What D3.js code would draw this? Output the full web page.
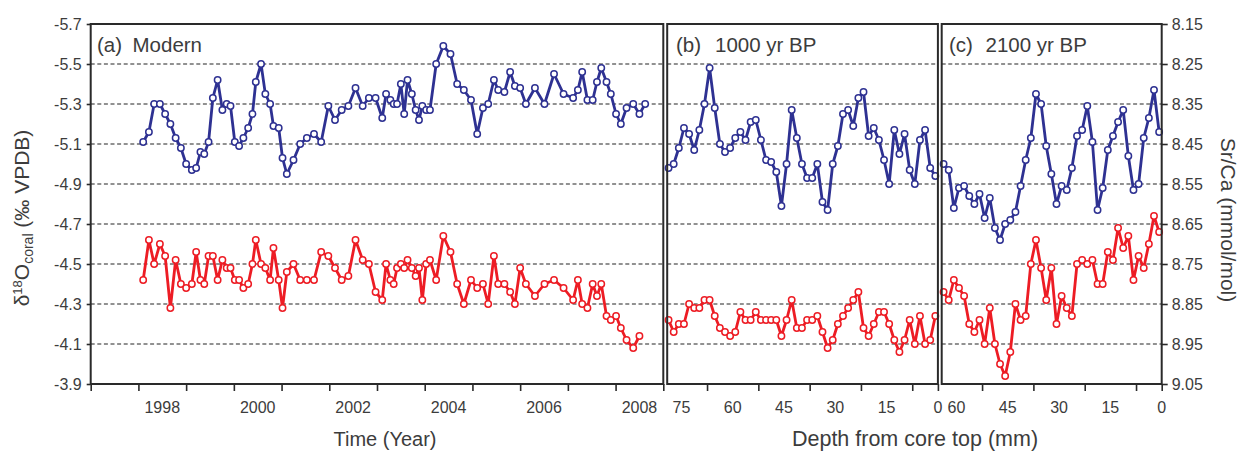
<!DOCTYPE html>
<html><head><meta charset="utf-8">
<script src="https://cdn.jsdelivr.net/npm/d3@7"></script>
<style>
body{margin:0;background:#fff}
svg{display:block}
text{font-family:"Liberation Sans",Arial,sans-serif;fill:#3c3c3c}
</style></head>
<body>
<svg id="chart" width="1246" height="452"></svg>
<script>
// ---------- data ----------
const modernYear = [
 1998.10,1998.22,1998.33,1998.45,1998.56,1998.67,1998.78,1998.89,1999.00,1999.12,
 1999.21,1999.30,1999.38,1999.47,1999.56,1999.66,1999.76,1999.85,1999.93,2000.02,
 2000.11,2000.20,2000.30,2000.39,2000.46,2000.57,2000.66,2000.76,2000.83,2000.94,
 2001.02,2001.11,2001.25,2001.39,2001.53,2001.68,2001.83,2001.98,2002.12,2002.26,
 2002.40,2002.55,2002.70,2002.83,2002.97,2003.11,2003.19,2003.28,2003.35,2003.42,
 2003.50,2003.57,2003.64,2003.73,2003.81,2003.88,2003.95,2004.03,2004.11,2004.24,
 2004.39,2004.54,2004.68,2004.82,2004.97,2005.10,2005.22,2005.33,2005.45,2005.54,
 2005.67,2005.79,2005.89,2006.00,2006.12,2006.31,2006.51,2006.71,2006.91,2007.11,
 2007.21,2007.30,2007.41,2007.52,2007.61,2007.70,2007.81,2007.90,2008.01,2008.11,
 2008.23,2008.37,2008.50,2008.62];
const modernD18O = [
 -5.11,-5.16,-5.30,-5.30,-5.25,-5.20,-5.13,-5.08,-5.00,-4.97,
 -4.98,-5.06,-5.05,-5.11,-5.33,-5.42,-5.27,-5.30,-5.29,-5.11,
 -5.09,-5.13,-5.18,-5.25,-5.41,-5.50,-5.35,-5.30,-5.19,-5.18,
 -5.03,-4.95,-5.02,-5.10,-5.13,-5.15,-5.11,-5.29,-5.22,-5.27,
 -5.29,-5.38,-5.29,-5.33,-5.33,-5.23,-5.35,-5.32,-5.30,-5.30,
 -5.40,-5.25,-5.42,-5.35,-5.27,-5.22,-5.29,-5.27,-5.27,-5.50,
 -5.59,-5.55,-5.40,-5.37,-5.32,-5.15,-5.28,-5.30,-5.42,-5.37,
 -5.36,-5.46,-5.39,-5.38,-5.30,-5.38,-5.30,-5.45,-5.35,-5.33,
 -5.37,-5.46,-5.32,-5.32,-5.41,-5.48,-5.41,-5.35,-5.25,-5.20,
 -5.28,-5.30,-5.25,-5.30];
const modernSrCa = [
 8.79,8.69,8.75,8.70,8.73,8.86,8.74,8.80,8.81,8.80,
 8.72,8.79,8.80,8.73,8.73,8.79,8.74,8.76,8.76,8.79,
 8.79,8.81,8.80,8.75,8.69,8.75,8.76,8.79,8.71,8.79,
 8.86,8.77,8.75,8.79,8.79,8.79,8.72,8.73,8.76,8.79,
 8.78,8.69,8.74,8.75,8.82,8.84,8.75,8.79,8.80,8.76,
 8.75,8.76,8.74,8.76,8.78,8.76,8.84,8.75,8.74,8.79,
 8.68,8.72,8.80,8.85,8.79,8.81,8.80,8.85,8.73,8.80,
 8.80,8.82,8.85,8.76,8.80,8.83,8.80,8.79,8.81,8.84,
 8.79,8.85,8.86,8.80,8.83,8.80,8.88,8.89,8.88,8.91,
 8.94,8.96,8.93,null];

const depthB = [
 78.75,77.25,75.75,74.25,72.75,71.25,69.75,68.25,66.75,65.25,
 63.75,62.25,60.75,59.25,57.75,56.25,54.75,53.25,51.75,50.25,
 48.75,47.25,45.75,44.25,42.75,41.25,39.75,38.25,36.75,35.25,
 33.75,32.25,30.75,29.25,27.75,26.25,24.75,23.25,21.75,20.25,
 18.75,17.25,15.75,14.25,12.75,11.25,9.75,8.25,6.75,5.25,
 3.75,2.25,0.75];
const bD18O = [
 -4.98,-5.00,-5.08,-5.18,-5.15,-5.07,-5.17,-5.30,-5.48,-5.28,
 -5.10,-5.06,-5.08,-5.13,-5.16,-5.12,-5.21,-5.22,-5.12,-5.02,
 -5.01,-4.96,-4.79,-5.00,-5.27,-5.13,-5.00,-4.93,-4.93,-5.00,
 -4.81,-4.77,-5.00,-5.09,-5.25,-5.27,-5.19,-5.33,-5.36,-5.14,
 -5.18,-5.12,-5.02,-4.90,-5.17,-5.05,-5.15,-4.97,-4.90,-5.12,
 -5.17,-4.98,-4.94];
const bSrCa = [
 8.89,8.92,8.90,8.90,8.85,8.86,8.86,8.84,8.84,8.88,
 8.91,8.92,8.93,8.92,8.87,8.89,8.89,8.87,8.89,8.89,
 8.89,8.89,8.93,8.89,8.84,8.91,8.91,8.89,8.89,8.88,
 8.92,8.96,8.94,8.90,8.88,8.86,8.84,8.82,8.91,8.93,
 8.90,8.87,8.87,8.90,8.94,8.97,8.94,8.89,8.95,8.88,
 8.95,8.94,8.88];

const depthC = [
 63.75,62.25,60.75,59.25,57.75,56.25,54.75,53.25,51.75,50.25,
 48.75,47.25,45.75,44.25,42.75,41.25,39.75,38.25,36.75,35.25,
 33.75,32.25,30.75,29.25,27.75,26.25,24.75,23.25,21.75,20.25,
 18.75,17.25,15.75,14.25,12.75,11.25,9.75,8.25,6.75,5.25,
 3.75,2.25,0.75];
const cD18O = [
 -5.00,-4.97,-4.78,-4.88,-4.89,-4.84,-4.80,-4.85,-4.73,-4.83,
 -4.68,-4.62,-4.70,-4.72,-4.76,-4.89,-5.02,-5.13,-5.35,-5.30,
 -5.09,-4.95,-4.80,-4.89,-4.87,-4.98,-5.14,-5.17,-5.29,-5.11,
 -4.77,-4.88,-5.07,-5.14,-5.21,-5.27,-5.04,-4.87,-4.90,-5.13,
 -5.23,-5.37,-5.16];
const cSrCa = [
 8.82,8.84,8.79,8.81,8.83,8.90,8.92,8.89,8.95,8.86,
 8.95,9.00,9.03,8.97,8.85,8.89,8.88,8.75,8.69,8.76,
 8.84,8.76,8.90,8.83,8.86,8.88,8.75,8.74,8.75,8.74,
 8.80,8.80,8.72,8.74,8.66,8.71,8.68,8.79,8.73,8.76,
 8.70,8.63,8.67];

const leftTicks = [-5.7,-5.5,-5.3,-5.1,-4.9,-4.7,-4.5,-4.3,-4.1,-3.9];
const rightTicks = [8.15,8.25,8.35,8.45,8.55,8.65,8.75,8.85,8.95,9.05];
const yearTicks = [1997,1998,1999,2000,2001,2002,2003,2004,2005,2006,2007,2008,2009];
const yearLabels = [1998,2000,2002,2004,2006,2008];
const depthLabelsB = [75,60,45,30,15,0];
const depthTicksB = [67.5,52.5,37.5,22.5,7.5,0];
const depthLabelsC = [60,45,30,15,0];
const depthTicksC = [52.5,37.5,22.5,7.5,0];

// ---------- layout ----------
const svg = d3.select("#chart");
const TOP = 24, BOT = 384;
const BLUE = "#2e3192", RED = "#ed1c24", FRAME = "#2a2a2a";

const yL = d3.scaleLinear().domain([-5.7,-3.9]).range([TOP,BOT]);
const yR = d3.scaleLinear().domain([8.15,9.05]).range([TOP,BOT]);
const xA = d3.scaleLinear().domain([1997,2009]).range([90.7,663.3]);
const xB = d3.scaleLinear().domain([79.15,0]).range([667.2,937.9]);
const xC = d3.scaleLinear().domain([64.3,0]).range([941.7,1161.7]);

const panels = [
  {x: xA, xs: modernYear, d18: modernD18O, sr: modernSrCa, title:"(a)", sub:"Modern", tx:97, sx:132.5},
  {x: xB, xs: depthB, d18: bD18O, sr: bSrCa, title:"(b)", sub:"1000 yr BP", tx:676, sx:715},
  {x: xC, xs: depthC, d18: cD18O, sr: cSrCa, title:"(c)", sub:"2100 yr BP", tx:949, sx:985.5}
];

// gridlines
panels.forEach(p => {
  const [x0,x1] = p.x.range();
  svg.append("g").selectAll("line")
    .data(leftTicks.slice(1,-1)).join("line")
    .attr("x1", x0).attr("x2", x1)
    .attr("y1", d => yL(d)).attr("y2", d => yL(d))
    .attr("stroke","#6e6e6e").attr("stroke-width",1.5)
    .attr("stroke-dasharray","4,2.6");
});

// series
function drawSeries(p, vals, y, color){
  const pts = p.xs.map((t,i)=>({t, v: vals[i]})).filter(d => d.v != null);
  const line = d3.line().x(d => p.x(d.t)).y(d => y(d.v));
  svg.append("path").datum(pts).attr("d", line)
    .attr("fill","none").attr("stroke",color).attr("stroke-width",2.8)
    .attr("stroke-linejoin","round");
  svg.append("g").selectAll("circle").data(pts).join("circle")
    .attr("cx", d => p.x(d.t)).attr("cy", d => y(d.v)).attr("r",3.2)
    .attr("fill","#fff").attr("stroke",color).attr("stroke-width",1.5);
}
panels.forEach(p => { drawSeries(p, p.d18, yL, BLUE); drawSeries(p, p.sr, yR, RED); });

// frames
panels.forEach(p => {
  const [x0,x1] = p.x.range();
  svg.append("rect").attr("x",x0).attr("y",TOP).attr("width",x1-x0).attr("height",BOT-TOP)
    .attr("fill","none").attr("stroke",FRAME).attr("stroke-width",2);
  svg.append("text").attr("x",p.tx).attr("y",51.5).attr("font-size",20.5).text(p.title);
  svg.append("text").attr("x",p.sx).attr("y",51.5).attr("font-size",20.5).text(p.sub);
});

// left axis
const gl = svg.append("g").attr("transform","translate(90.7,0)")
  .call(d3.axisLeft(yL).tickValues(leftTicks).tickFormat(d => d.toFixed(1)).tickSize(4).tickPadding(5));
// right axis
const gr = svg.append("g").attr("transform","translate(1161.7,0)")
  .call(d3.axisRight(yR).tickValues(rightTicks).tickFormat(d => d.toFixed(2)).tickSize(6).tickPadding(4));
[gl,gr].forEach(g => {
  g.select(".domain").remove();
  g.selectAll(".tick line").attr("stroke",FRAME).attr("stroke-width",1.6);
  g.selectAll(".tick text").attr("font-size",16).attr("fill","#3c3c3c")
   .attr("font-family","Liberation Sans, Arial, sans-serif");
});

// bottom axes (tick marks)
function bottomTicks(scale, ticks){
  const g = svg.append("g").attr("transform",`translate(0,${BOT})`)
    .call(d3.axisBottom(scale).tickValues(ticks).tickFormat("").tickSize(7));
  g.select(".domain").remove();
  g.selectAll(".tick line").attr("stroke",FRAME).attr("stroke-width",1.6);
}
bottomTicks(xA, yearTicks);
bottomTicks(xB, depthTicksB);
bottomTicks(xC, depthTicksC);

function bottomLabels(scale, labels, offset){
  svg.append("g").selectAll("text").data(labels).join("text")
    .attr("x", d => scale(d + offset)).attr("y", 413)
    .attr("text-anchor","middle").attr("font-size",16).text(d => d);
}
bottomLabels(xA, yearLabels, 0.5);
bottomLabels(xB, depthLabelsB, 0);
bottomLabels(xC, depthLabelsC, 0);

// axis titles
svg.append("text").attr("x",385).attr("y",446).attr("text-anchor","middle")
  .attr("font-size",20).text("Time (Year)");
svg.append("text").attr("x",915).attr("y",446).attr("text-anchor","middle")
  .attr("font-size",21.5).text("Depth from core top (mm)");

const lt = svg.append("text").attr("transform","translate(29,218) rotate(-90)")
  .attr("text-anchor","middle").attr("font-size",21);
lt.append("tspan").text("δ");
lt.append("tspan").attr("font-size",13).attr("dy",-7).text("18");
lt.append("tspan").attr("dy",7).text("O");
lt.append("tspan").attr("font-size",14).attr("dy",4).text("coral");
lt.append("tspan").attr("dy",-4).text(" (‰ VPDB)");

svg.append("text").attr("transform","translate(1221,220) rotate(90)")
  .attr("text-anchor","middle").attr("font-size",21).text("Sr/Ca (mmol/mol)");
</script>
</body></html>
